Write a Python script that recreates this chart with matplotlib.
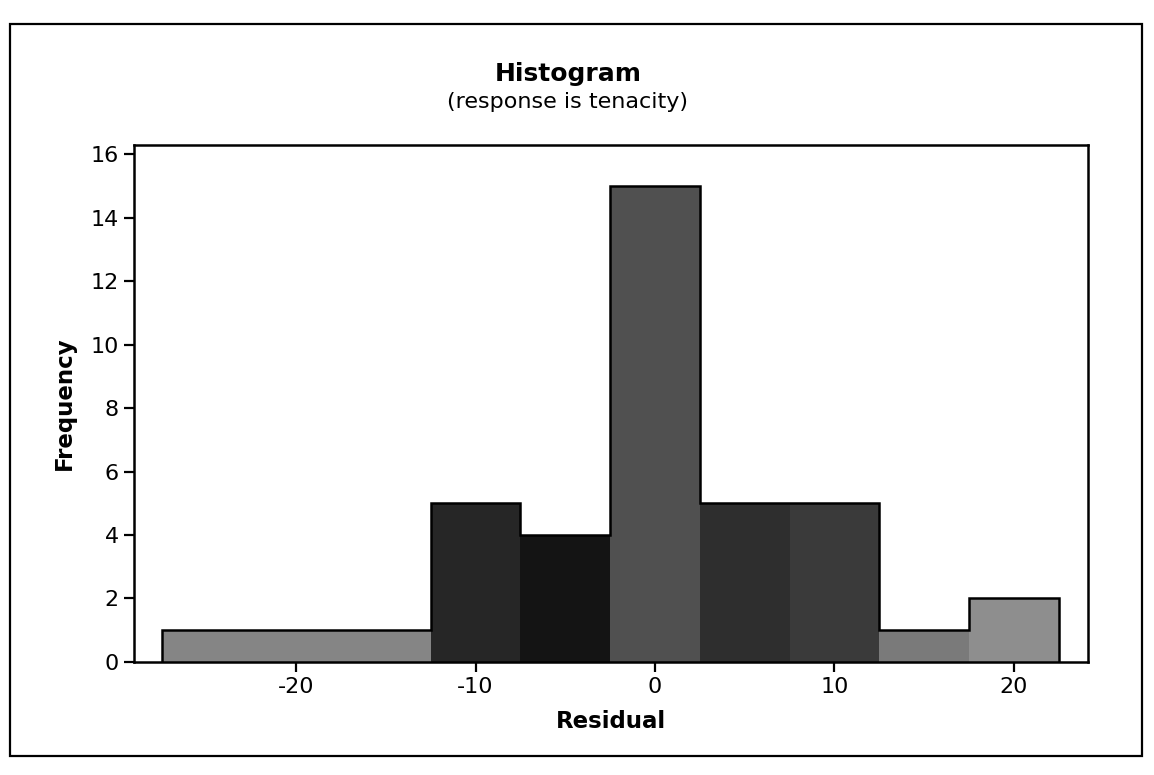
import matplotlib
matplotlib.use("Agg")
import matplotlib.pyplot as plt
from matplotlib.patches import Rectangle

# Residual histogram: bin edges and counts
bin_edges = [-27.5, -22.5, -17.5, -12.5, -7.5, -2.5, 2.5, 7.5, 12.5, 17.5, 22.5]
counts = [1, 1, 1, 5, 4, 15, 5, 5, 1, 2]
x_ticks = [-20, -10, 0, 10, 20]
y_ticks = [0, 2, 4, 6, 8, 10, 12, 14, 16]

title = "Histogram"
subtitle = "(response is tenacity)"
x_label = "Residual"
y_label = "Frequency"

bar_shades = ["#858585", "#858585", "#858585", "#262626", "#141414",
              "#505050", "#2e2e2e", "#3a3a3a", "#7a7a7a", "#8e8e8e"]

plt.rcParams['font.family'] = ['DejaVu Sans']
plt.rcParams['axes.unicode_minus'] = False
fig = plt.figure(figsize=(11.54, 7.75), dpi=100)
fig.patch.set_facecolor("white")

# Outer frame around the graph window
fig.add_artist(Rectangle((0.009, 0.024), 0.981, 0.945, transform=fig.transFigure,
                         fill=False, edgecolor="black", linewidth=1.6))

ax = fig.add_axes([0.116, 0.146, 0.827, 0.667])

# Filled bars, then a single black outline around the histogram shape
widths = [bin_edges[i + 1] - bin_edges[i] for i in range(len(counts))]
ax.bar(bin_edges[:-1], counts, width=widths, align="edge",
       color=bar_shades, edgecolor="none", linewidth=0)
ax.stairs(counts, bin_edges, baseline=0, fill=False, color="black", linewidth=1.8)

ax.set_xlim(-29.05, 24.15)
ax.set_ylim(0, 16.3)
ax.set_xticks(x_ticks)
ax.set_yticks(y_ticks)
ax.tick_params(axis="both", direction="out", length=7, width=1.6,
               labelsize=16, pad=4)
for s in ax.spines.values():
    s.set_linewidth(1.8)

ax.set_xlabel(x_label, fontsize=16.5, fontweight="bold", labelpad=9)
ax.set_ylabel(y_label, fontsize=16.5, fontweight="bold", labelpad=10)

fig.text(0.492, 0.905, title, ha="center", va="center", fontsize=18, fontweight="bold")
fig.text(0.492, 0.868, subtitle, ha="center", va="center", fontsize=16)

fig.savefig("out.png", dpi=100, facecolor="white")
